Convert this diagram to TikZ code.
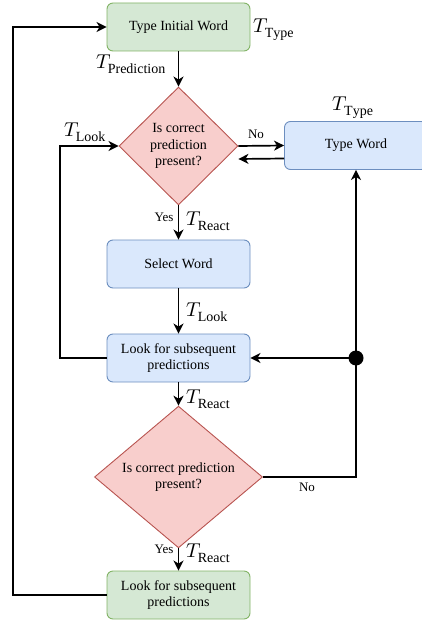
\documentclass[tikz,border=0pt]{standalone}
\usepackage{fontspec}
\setmainfont{Liberation Serif}
\usepackage{unicode-math}
\setmathfont{Latin Modern Math}
\usetikzlibrary{shapes.geometric,arrows.meta,calc}
\definecolor{gfill}{HTML}{D5E8D4}\definecolor{gdraw}{HTML}{82B366}
\definecolor{bfill}{HTML}{DAE8FC}\definecolor{bdraw}{HTML}{6C8EBF}
\definecolor{rfill}{HTML}{F8CECC}\definecolor{rdraw}{HTML}{B85450}
\begin{document}
\begin{tikzpicture}[x=1pt,y=-1pt,
  box/.style={rectangle,rounded corners=6pt,line width=0.9pt,minimum width=143pt,minimum height=48pt,inner sep=1pt,align=center,font=\fontsize{14}{15.5}\selectfont},
  gbox/.style={box,fill=gfill,draw=gdraw},
  bbox/.style={box,fill=bfill,draw=bdraw},
  dia/.style={diamond,fill=rfill,draw=rdraw,line width=0.9pt,inner sep=0pt,align=center,font=\fontsize{14}{16.3}\selectfont},
  arr/.style={line width=1.7pt,-{Stealth[length=10pt,width=10pt,inset=3pt]}},
  tl/.style={inner sep=0pt,font=\fontsize{20}{22}\selectfont},
  sl/.style={inner sep=0pt,font=\fontsize{13}{15}\selectfont}]
\useasboundingbox (0,0) rectangle (421,620);
\node[gbox] (top) at (178.5,27) {Type Initial Word};
\node[dia,minimum width=119pt,minimum height=118pt] (d1) at (178.5,146) {Is correct\\prediction\\present?};
\node[bbox] (tw) at (356,145.5) {Type Word};
\node[bbox] (sw) at (178.5,264) {Select Word};
\node[bbox] (l1) at (178.5,358) {Look for subsequent\\predictions};
\node[dia,minimum width=168pt,minimum height=118pt] (d2) at (178.5,477) {Is correct prediction\\present?};
\node[gbox] (bot) at (178.5,595) {Look for subsequent\\predictions};
\coordinate (j) at (tw.south |- l1.east);
\coordinate (ll) at (60,0);
\coordinate (lo) at (13,0);
% edges
\draw[arr] (top.south) -- (d1.north);
\draw[arr] (d1.east) -- (tw.west);
\draw[arr] ([yshift=-13pt]tw.west) -- ([yshift=-13pt]d1.east);
\draw[arr] (d1.south) -- (sw.north);
\draw[arr] (sw.south) -- (l1.north);
\draw[arr] (l1.west) -- (ll |- l1.west) |- (d1.west);
\draw[arr] (l1.south) -- (d2.north);
\draw[arr] (d2.east) -| (tw.south);
\draw[arr] (j) -- (l1.east);
\fill (j) circle (7.5pt);
\draw[arr] (d2.south) -- (bot.north);
\draw[arr] (bot.west) -- (lo |- bot.west) |- (top.west);
% labels
\node[tl,anchor=west] (tt1) at (253,30) {$T_{\mathrm{Type}}$};
\node[tl] (tt2) at (353,108) {$T_{\mathrm{Type}}$};
\node[tl] (tp) at (131,64) {$T_{\mathrm{Prediction}}$};
\node[tl] (tlk1) at (85,132) {$T_{\mathrm{Look}}$};
\node[sl] (no1) at (256,134) {No};
\node[sl] (yes1) at (164,217) {Yes};
\node[tl,anchor=west] (tr1) at (186,221) {$T_{\mathrm{React}}$};
\node[tl,anchor=west] (tlk2) at (186,312) {$T_{\mathrm{Look}}$};
\node[tl,anchor=west] (tr2) at (186,399) {$T_{\mathrm{React}}$};
\node[sl] (no2) at (307,487) {No};
\node[sl] (yes2) at (164,549) {Yes};
\node[tl,anchor=west] (tr3) at (186,553) {$T_{\mathrm{React}}$};
\end{tikzpicture}
\end{document}
